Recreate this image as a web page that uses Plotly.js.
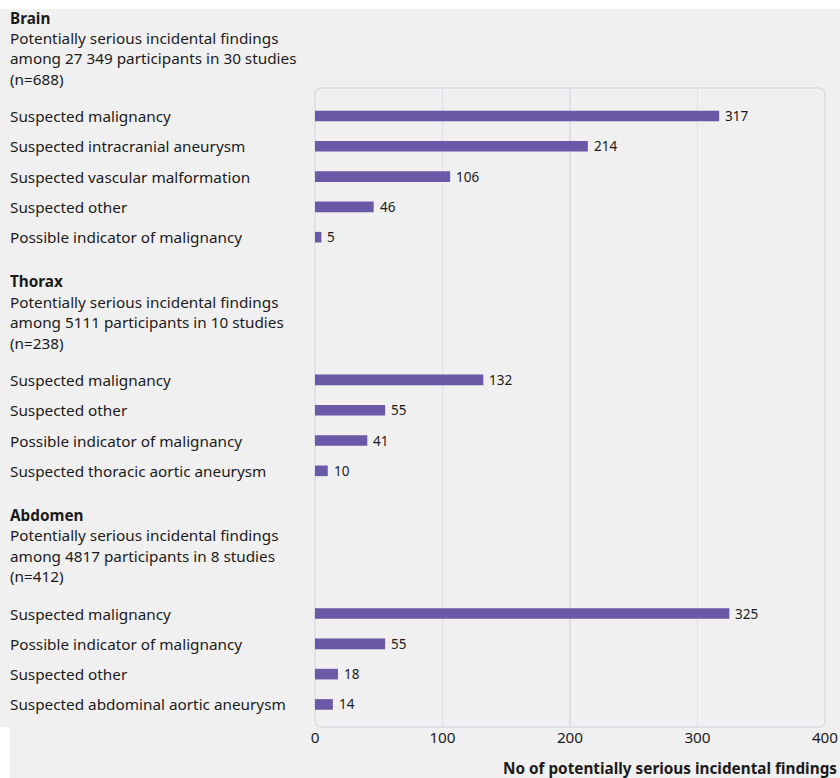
<!DOCTYPE html>
<html><head><meta charset="utf-8">
<script src="https://cdn.plot.ly/plotly-3.0.1.min.js"></script>
<style>html,body{margin:0;padding:0;background:#fff}</style>
</head><body>
<div id="chart" style="width:840px;height:778px"></div>
<script>
// ---- data ----
const groupNames = ["Brain", "Thorax", "Abdomen"];
const groupSubtitles = [
  ["Potentially serious incidental findings", "among 27 349 participants in 30 studies", "(n=688)"],
  ["Potentially serious incidental findings", "among 5111 participants in 10 studies", "(n=238)"],
  ["Potentially serious incidental findings", "among 4817 participants in 8 studies", "(n=412)"]
];
const brainCategories = ["Suspected malignancy", "Suspected intracranial aneurysm", "Suspected vascular malformation", "Suspected other", "Possible indicator of malignancy"];
const brainValues = [317, 214, 106, 46, 5];
const thoraxCategories = ["Suspected malignancy", "Suspected other", "Possible indicator of malignancy", "Suspected thoracic aortic aneurysm"];
const thoraxValues = [132, 55, 41, 10];
const abdomenCategories = ["Suspected malignancy", "Possible indicator of malignancy", "Suspected other", "Suspected abdominal aortic aneurysm"];
const abdomenValues = [325, 55, 18, 14];
const xTicks = [0, 100, 200, 300, 400];
const xTitle = "No of potentially serious incidental findings";

// ---- layout helpers ----
const groups = [
  {cats: brainCategories, vals: brainValues},
  {cats: thoraxCategories, vals: thoraxValues},
  {cats: abdomenCategories, vals: abdomenValues}
];
const GROUP_GAP = 4.71;
const FONT = "Noto Sans, Open Sans, sans-serif";
const TXT = "#1b1b1b";
const BAR = "#6a59a6";
const W = 840, H = 778;
const M = {l: 315, r: 15, t: 88, b: 51};
const PW = W - M.l - M.r, PH = H - M.t - M.b;
const rowPx = 30.3;
const yTop = -(116 - M.t) / rowPx;
const yBottom = (M.t + PH - 116) / rowPx;
const toPaperY = v => (yBottom - v) / (yBottom - yTop);
const LABEL_X = (8 - M.l) / PW;
const LFS = 15.3;

const ys = [], xs = [];
const annotations = [];
let pos = 0;
groups.forEach((g, gi) => {
  if (gi > 0) pos += GROUP_GAP - 1;
  const first = pos;
  const headerOffsets = [-3.25, -2.58, -1.9, -1.23];
  const lines = ["<b>" + groupNames[gi] + "</b>"].concat(groupSubtitles[gi]);
  lines.forEach((t, li) => {
    annotations.push({
      text: t, xref: "paper", x: LABEL_X, xanchor: "left",
      yref: "paper", y: toPaperY(first + headerOffsets[li]), yanchor: "middle",
      showarrow: false, font: {family: FONT, size: LFS, color: TXT}
    });
  });
  g.cats.forEach((c, i) => {
    ys.push(pos); xs.push(g.vals[i]);
    annotations.push({
      text: c, xref: "paper", x: LABEL_X, xanchor: "left",
      yref: "paper", y: toPaperY(pos), yanchor: "middle",
      showarrow: false, font: {family: FONT, size: LFS, color: TXT}
    });
    annotations.push({
      text: String(g.vals[i]), xref: "x", x: g.vals[i], xanchor: "left", xshift: 4,
      yref: "paper", y: toPaperY(pos), yanchor: "middle",
      showarrow: false, font: {family: FONT, size: 13.5, color: TXT}
    });
    pos += 1;
  });
});

annotations.push({
  text: "<b>" + xTitle + "</b>", xref: "paper", x: (839 - M.l) / PW, xanchor: "right",
  yref: "paper", y: -(768 - (H - M.b)) / PH, yanchor: "middle",
  showarrow: false, font: {family: FONT, size: LFS, color: TXT}
});

// rounded border of plot area
const r = 7, rx = r / PW, ry = r / PH;
const borderPath = `M ${rx},1 L ${1 - rx},1 Q 1,1 1,${1 - ry} L 1,${ry} Q 1,0 ${1 - rx},0 L ${rx},0 Q 0,0 0,${ry} L 0,${1 - ry} Q 0,1 ${rx},1 Z`;

const trace = {
  type: "bar", orientation: "h", x: xs, y: ys,
  width: ys.map(() => 0.35),
  marker: {color: BAR}, hoverinfo: "x"
};

const layout = {
  width: W, height: H, margin: M,
  paper_bgcolor: "#f0f0f0", plot_bgcolor: "rgba(0,0,0,0)",
  showlegend: false,
  xaxis: {
    range: [0, 400], tickvals: xTicks, ticktext: xTicks.map(String),
    showgrid: true, gridcolor: "#dcdfe4", gridwidth: 1.5,
    zeroline: false, showline: false, ticks: "",
    tickfont: {family: FONT, size: LFS, color: TXT}, fixedrange: true
  },
  yaxis: {
    range: [yBottom, yTop], showgrid: false, zeroline: false,
    showticklabels: false, ticks: "", showline: false, fixedrange: true
  },
  shapes: [
    {type: "rect", xref: "paper", yref: "paper", x0: (0 - M.l) / PW, x1: (W - M.l) / PW,
     y0: (PH + M.t - 9) / PH, y1: (PH + M.t) / PH,
     fillcolor: "#ffffff", line: {width: 0}, layer: "below"},
    {type: "rect", xref: "paper", yref: "paper", x0: (0 - M.l) / PW, x1: (10 - M.l) / PW,
     y0: -M.b / PH, y1: 0,
     fillcolor: "#ffffff", line: {width: 0}, layer: "below"},
    {type: "path", xref: "paper", yref: "paper", path: borderPath,
     line: {color: "#d9dce2", width: 1.5}, layer: "below"}
  ],
  annotations: annotations
};

Plotly.newPlot("chart", [trace], layout, {displayModeBar: false, staticPlot: true});
</script>
</body></html>
